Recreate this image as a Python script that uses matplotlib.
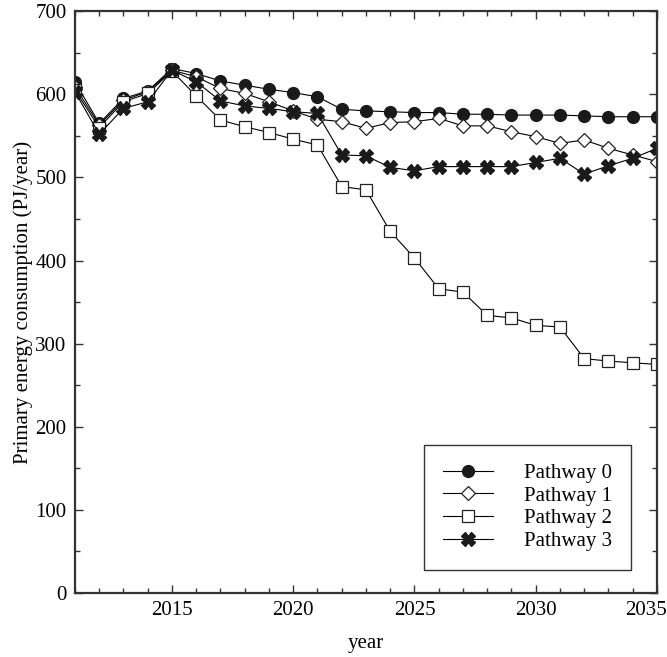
import matplotlib
matplotlib.use("Agg")
import matplotlib.pyplot as plt
from matplotlib.ticker import MultipleLocator, FuncFormatter

plt.rcParams['font.family'] = ['Liberation Serif', 'DejaVu Serif']

years = list(range(2011, 2036))

# values (PJ/year)
pathway0 = [615, 565, 595, 604, 631, 625, 616, 611, 606, 602, 597, 582, 580, 579,
            578, 578, 576, 576, 575, 575, 575, 574, 573, 573, 573]
pathway1 = [609, 563, 593, 603, 629, 621, 607, 601, 591, 580, 570, 567, 559, 566,
            567, 571, 562, 562, 555, 549, 541, 545, 535, 527, 519]
pathway2 = [605, 560, 591, 601, 628, 598, 569, 561, 554, 546, 539, 489, 485, 435,
            403, 366, 362, 334, 331, 322, 320, 282, 279, 277, 275]
pathway3 = [603, 552, 583, 591, 629, 615, 592, 586, 583, 579, 577, 527, 526, 512,
            508, 513, 513, 513, 513, 518, 523, 504, 514, 523, 535]

labels = ['Pathway 0', 'Pathway 1', 'Pathway 2', 'Pathway 3']

fig = plt.figure(figsize=(6.67, 6.57), dpi=100)
ax = fig.add_axes([0.1124, 0.0974, 0.8726, 0.8856])

ax.plot(years, pathway0, color='black', lw=0.8, marker='o', ms=8.5,
        mfc='#1a1a1a', mec='#1a1a1a', label=labels[0])
ax.plot(years, pathway1, color='black', lw=0.8, marker='D', ms=7.5,
        mfc='white', mec='#222222', mew=0.9, label=labels[1])
ax.plot(years, pathway2, color='black', lw=0.8, marker='s', ms=8,
        mfc='white', mec='#222222', mew=0.9, label=labels[2])
ax.plot(years, pathway3, color='black', lw=0.8, marker='X', ms=9.5,
        mfc='#1a1a1a', mec='#1a1a1a', label=labels[3])

ax.set_xlim(2011, 2035)
ax.set_ylim(0, 700)
ax.xaxis.set_major_locator(MultipleLocator(5))
ax.xaxis.set_minor_locator(MultipleLocator(1))
ax.yaxis.set_major_locator(MultipleLocator(100))
ax.yaxis.set_minor_locator(MultipleLocator(50))
# last year label is drawn separately, shifted left so it stays inside
ax.xaxis.set_major_formatter(FuncFormatter(lambda v, p: '' if v >= 2035 else '%d' % v))
ax.annotate('2035', xy=(2035, 0), xycoords=('data', 'axes fraction'),
            xytext=(-8, -6), textcoords='offset points', ha='center', va='top',
            fontsize=15)
ax.tick_params(which='both', direction='in', top=True, right=True,
               labelsize=15, width=1, color='#333333')
ax.tick_params(which='major', length=6, pad=6)
ax.tick_params(which='minor', length=3.5)
for s in ax.spines.values():
    s.set_linewidth(1.6)
    s.set_color('#333333')

ax.set_xlabel('year', fontsize=15, labelpad=10)
ax.set_ylabel('Primary energy consumption (PJ/year)', fontsize=15, labelpad=2)

leg = ax.legend(loc='lower right', bbox_to_anchor=(0.955, 0.04), fontsize=15,
                fancybox=False, edgecolor='#333333', framealpha=1,
                handlelength=2.4, borderpad=0.9, labelspacing=0.15,
                handletextpad=1.5, borderaxespad=0)
leg.get_frame().set_linewidth(1.0)

fig.savefig('out.png', dpi=100)
